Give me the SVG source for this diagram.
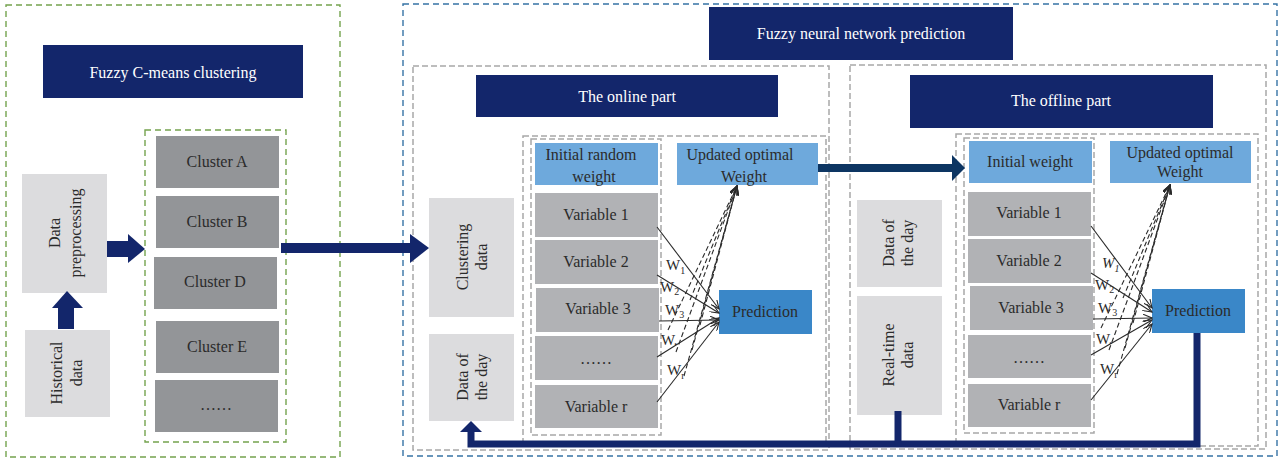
<svg xmlns="http://www.w3.org/2000/svg" width="1282" height="460" viewBox="0 0 1282 460">
<style>
.t{font-family:"Liberation Serif","DejaVu Serif",serif;}
.title{fill:#13266b;}
.tt{fill:#fff;font-size:16px;text-anchor:middle;dominant-baseline:central;}
.lg{fill:#dcdcde;}
.cl{fill:#939598;}
.vr{fill:#b1b2b5;}
.lb{fill:#6ea9dc;}
.pr{fill:#3a87c8;}
.dt{fill:#2b2b2b;font-size:16px;text-anchor:middle;dominant-baseline:central;}
.vt{fill:#2b2b2b;font-size:16px;text-anchor:middle;dominant-baseline:central;}
.gd{fill:none;stroke:#74a34e;stroke-width:1.4;stroke-dasharray:6,4;}
.bd{fill:none;stroke:#3673a5;stroke-width:1.4;stroke-dasharray:6,4;}
.yd{fill:none;stroke:#a8a8a8;stroke-width:1.5;stroke-dasharray:6,3;}
.nv{fill:#13266b;}
.sl{fill:none;stroke:#2a2a2a;stroke-width:1.1;marker-end:url(#ah);}
.dl{fill:none;stroke:#2a2a2a;stroke-width:1.1;stroke-dasharray:5,3;marker-end:url(#ah);}
.w{fill:#2a2a2a;font-size:15px;}
.ws{fill:#2a2a2a;font-size:10px;}
</style>
<defs>
<marker id="ah" markerWidth="10" markerHeight="8" refX="9" refY="4" orient="auto" markerUnits="userSpaceOnUse">
<path d="M0,0 L9,4 L0,8" fill="none" stroke="#2a2a2a" stroke-width="1.1"/>
</marker>
</defs>
<rect width="1282" height="460" fill="#fff"/>

<!-- frames -->
<g id="frames">
<rect class="gd" x="6" y="5" width="334" height="452"/>
<rect class="gd" x="145" y="130" width="141" height="312"/>
<rect class="bd" x="403" y="4" width="874" height="452"/>
<rect class="yd" x="413" y="66" width="416" height="384"/>
<rect class="yd" x="523" y="136" width="303" height="310"/>
<rect class="yd" x="531" y="139" width="130" height="296"/>
<rect class="yd" x="850" y="65" width="416" height="384"/>
<rect class="yd" x="956" y="134" width="302" height="312"/>
<rect class="yd" x="964" y="138" width="130" height="295"/>
</g>

<!-- left section -->
<g id="fcm-title"><rect class="title" x="43" y="45" width="260" height="53"/><text class="t tt" x="173" y="72">Fuzzy C-means clustering</text></g>
<g id="cluster-a"><rect class="cl" x="156" y="136" width="123" height="52"/><text class="t dt" x="217" y="161">Cluster A</text></g>
<g id="cluster-b"><rect class="cl" x="156" y="196" width="123" height="52"/><text class="t dt" x="217" y="221">Cluster B</text></g>
<g id="cluster-d"><rect class="cl" x="154" y="257" width="123" height="52"/><text class="t dt" x="215" y="281">Cluster D</text></g>
<g id="cluster-e"><rect class="cl" x="156" y="321" width="123" height="52"/><text class="t dt" x="217" y="346">Cluster E</text></g>
<g id="cluster-more"><rect class="cl" x="155" y="380" width="123" height="52"/><text class="t dt" x="216" y="404">……</text></g>
<g id="preprocessing"><rect class="lg" x="22" y="174" width="85" height="119"/>
<text class="t vt" transform="translate(54,233) rotate(-90)">Data</text>
<text class="t vt" transform="translate(75,233) rotate(-90)">preprocessing</text></g>
<g id="historical"><rect class="lg" x="25" y="330" width="85" height="87"/>
<text class="t vt" transform="translate(56,373) rotate(-90)">Historical</text>
<text class="t vt" transform="translate(76,373) rotate(-90)">data</text></g>

<!-- right section titles -->
<g id="fnn-title"><rect class="title" x="709" y="7" width="304" height="53"/><text class="t tt" x="861" y="33">Fuzzy neural network prediction</text></g>
<g id="online-title"><rect class="title" x="476" y="75" width="302" height="42"/><text class="t tt" x="627" y="96">The online part</text></g>
<g id="offline-title"><rect class="title" x="910" y="75" width="303" height="53"/><text class="t tt" x="1061" y="100">The offline part</text></g>

<!-- online -->
<g id="clustering-data"><rect class="lg" x="429" y="198" width="85" height="119"/>
<text class="t vt" transform="translate(462,257) rotate(-90)">Clustering</text>
<text class="t vt" transform="translate(481,257) rotate(-90)">data</text></g>
<g id="on-day"><rect class="lg" x="429" y="334" width="85" height="87"/>
<text class="t vt" transform="translate(462,377) rotate(-90)">Data of</text>
<text class="t vt" transform="translate(481,377) rotate(-90)">the day</text></g>
<g id="on-init"><rect class="lb" x="535" y="143" width="123" height="42"/>
<text class="t vt" x="591" y="154">Initial random</text><text class="t vt" x="594" y="176">weight</text></g>
<g id="on-upd"><rect class="lb" x="677" y="143" width="141" height="42"/>
<text class="t vt" x="740" y="154">Updated optimal</text><text class="t vt" x="744" y="176">Weight</text></g>
<g id="on-v1"><rect class="vr" x="535" y="193" width="123" height="44"/><text class="t dt" x="596" y="214">Variable 1</text></g>
<g id="on-v2"><rect class="vr" x="535" y="240" width="123" height="44"/><text class="t dt" x="596" y="261">Variable 2</text></g>
<g id="on-v3"><rect class="vr" x="536" y="288" width="123" height="44"/><text class="t dt" x="598" y="308">Variable 3</text></g>
<g id="on-v4"><rect class="vr" x="535" y="336" width="123" height="44"/><text class="t dt" x="596" y="358">……</text></g>
<g id="on-vr"><rect class="vr" x="535" y="385" width="123" height="43"/><text class="t dt" x="596" y="406">Variable r</text></g>
<g id="on-pred"><rect class="pr" x="719" y="290" width="93" height="44"/><text class="t vt" x="765" y="311">Prediction</text></g>

<!-- offline -->
<g id="off-day"><rect class="lg" x="857" y="200" width="85" height="87"/>
<text class="t vt" transform="translate(888,243) rotate(-90)">Data of</text>
<text class="t vt" transform="translate(907,243) rotate(-90)">the day</text></g>
<g id="off-rt"><rect class="lg" x="857" y="296" width="85" height="119"/>
<text class="t vt" transform="translate(888,355) rotate(-90)">Real-time</text>
<text class="t vt" transform="translate(907,355) rotate(-90)">data</text></g>
<g id="off-init"><rect class="lb" x="969" y="141" width="123" height="42"/>
<text class="t vt" x="1030" y="161">Initial weight</text></g>
<g id="off-upd"><rect class="lb" x="1110" y="141" width="141" height="42"/>
<text class="t vt" x="1180" y="152">Updated optimal</text><text class="t vt" x="1180" y="171">Weight</text></g>
<g id="off-v1"><rect class="vr" x="968" y="192" width="123" height="44"/><text class="t dt" x="1029" y="212">Variable 1</text></g>
<g id="off-v2"><rect class="vr" x="968" y="239" width="123" height="44"/><text class="t dt" x="1029" y="260">Variable 2</text></g>
<g id="off-v3"><rect class="vr" x="970" y="286" width="123" height="44"/><text class="t dt" x="1031" y="307">Variable 3</text></g>
<g id="off-v4"><rect class="vr" x="968" y="335" width="123" height="43"/><text class="t dt" x="1029" y="357">……</text></g>
<g id="off-vr"><rect class="vr" x="968" y="384" width="123" height="43"/><text class="t dt" x="1029" y="404">Variable r</text></g>
<g id="off-pred"><rect class="pr" x="1152" y="289" width="93" height="44"/><text class="t vt" x="1198" y="310">Prediction</text></g>

<!-- connectors -->
<g id="connectors">
<rect class="nv" x="58" y="306" width="16" height="23"/>
<polygon class="nv" points="52,308 67,291 83,308"/>
<rect class="nv" x="107" y="241" width="22" height="16"/>
<polygon class="nv" points="128,234 145,249 128,263"/>
<rect class="nv" x="281" y="243" width="130" height="10"/>
<polygon class="nv" points="410,234 429,248 410,263"/>
<rect fill="#0d3562" x="818" y="164" width="135" height="8"/>
<polygon fill="#0d3562" points="952,155 965,168 952,181"/>
<polyline points="1197,333 1197,444 471,444 471,431" fill="none" stroke="#13266b" stroke-width="7"/>
<polygon class="nv" points="460,432 471,421 482,432"/>
<line x1="898" y1="411" x2="898" y2="444" stroke="#13266b" stroke-width="7"/>

<!-- online weights -->
<line class="sl" x1="657" y1="227" x2="719" y2="309"/>
<line class="sl" x1="657" y1="275" x2="719" y2="313"/>
<line class="sl" x1="659" y1="321" x2="719" y2="320"/>
<line class="sl" x1="657" y1="357" x2="719" y2="318"/>
<line class="sl" x1="657" y1="402" x2="719" y2="322"/>
<line class="dl" x1="668" y1="330" x2="737" y2="186"/>
<line class="dl" x1="676" y1="352" x2="737" y2="186"/>
<line class="dl" x1="684" y1="376" x2="737" y2="186"/>
<line class="dl" x1="692" y1="350" x2="737" y2="186"/>
<line class="dl" x1="700" y1="325" x2="737" y2="186"/>
<line class="dl" x1="690" y1="300" x2="737" y2="186"/>
<text class="t w" x="666" y="270">W<tspan class="ws" dy="4">1</tspan></text>
<text class="t w" x="660" y="292">W<tspan class="ws" dy="3">2</tspan></text>
<text class="t w" x="665" y="315">W<tspan class="ws" dy="3">3</tspan></text>
<text class="t w" x="661" y="345">W.</text>
<text class="t w" x="667" y="375">W<tspan class="ws" dy="4">r</tspan></text>

<!-- offline weights -->
<line class="sl" x1="1091" y1="226" x2="1152" y2="308"/>
<line class="sl" x1="1091" y1="273" x2="1152" y2="312"/>
<line class="sl" x1="1093" y1="319" x2="1152" y2="318"/>
<line class="sl" x1="1091" y1="355" x2="1152" y2="320"/>
<line class="sl" x1="1091" y1="400" x2="1152" y2="324"/>
<line class="dl" x1="1101" y1="328" x2="1170" y2="185"/>
<line class="dl" x1="1109" y1="350" x2="1170" y2="185"/>
<line class="dl" x1="1117" y1="374" x2="1170" y2="185"/>
<line class="dl" x1="1125" y1="348" x2="1170" y2="185"/>
<line class="dl" x1="1133" y1="323" x2="1170" y2="185"/>
<line class="dl" x1="1123" y1="298" x2="1170" y2="185"/>
<text class="t w" x="1102" y="268" font-style="italic">W<tspan class="ws" dy="4">1</tspan></text>
<text class="t w" x="1095" y="290">W<tspan class="ws" dy="3">2</tspan></text>
<text class="t w" x="1098" y="313">W<tspan class="ws" dy="3">3</tspan></text>
<text class="t w" x="1096" y="344">W.</text>
<text class="t w" x="1100" y="374">W<tspan class="ws" dy="4">r</tspan></text>
</g>
</svg>
